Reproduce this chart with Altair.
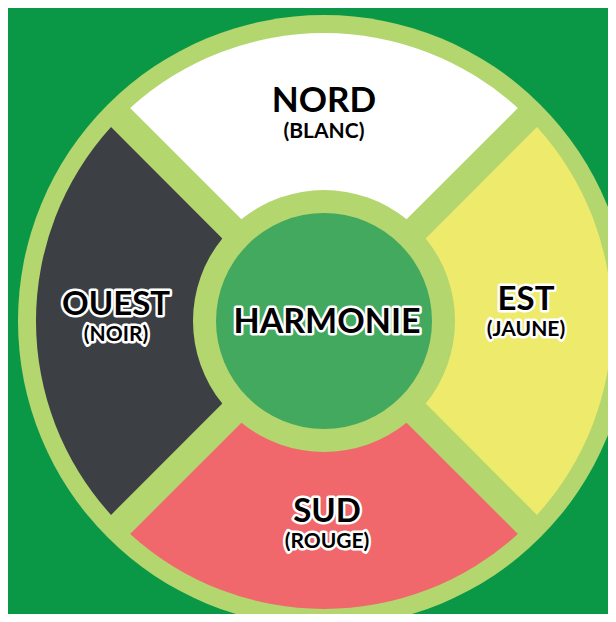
import math
import altair as alt
import pandas as pd

# ---- data -------------------------------------------------------------
directions = ["NORD", "EST", "SUD", "OUEST"]
colour_names = ["(BLANC)", "(JAUNE)", "(ROUGE)", "(NOIR)"]
segment_colours = ["#ffffff", "#eeea6b", "#f0686c", "#3c3f43"]
shares = [1, 1, 1, 1]
centre_label = ["HARMONIE"]

# ---- style / layout ----------------------------------------------------
BG = "#0a9847"
RING = "#b3d66f"
CORE = "#43a95f"
W, H = 600, 606
CX, CY = 316, 313
R_OUTER_RING = 306
R_SEG_OUT = 288
R_SEG_IN = 131
R_CORE = 108
GAP = 27
FONT = "Lato"
SUB_SIZE = 21
pad_radius = math.sqrt(R_SEG_IN ** 2 + R_SEG_OUT ** 2)
PAD = 2 * math.asin(GAP / 2 / pad_radius)
TOTAL = sum(shares)
THETA_RANGE = [7 * math.pi / 4, 15 * math.pi / 4]

# label placement per direction: radius, dx, title dy, subtitle dy, title size
LABEL_LAYOUT = {
    "NORD": (206, 0, -14, 17, 35),
    "EST": (203, -1, -21, 9, 33),
    "SUD": (206, 3, -15, 15, 33),
    "OUEST": (208, 0, -16, 14, 33),
}

df = pd.DataFrame({
    "direction": directions,
    "sub": colour_names,
    "colour": segment_colours,
    "share": shares,
    "order": list(range(len(directions))),
})

theta_scale = alt.Scale(domain=[0, TOTAL], range=THETA_RANGE)
pos = dict(x=alt.value(CX), y=alt.value(CY))

ring = alt.Chart(pd.DataFrame({"k": [0]})).mark_arc(
    innerRadius=0, outerRadius=R_OUTER_RING, color=RING
).encode(theta=alt.value(0), theta2=alt.value(2 * math.pi), **pos)

segments = alt.Chart(df).mark_arc(
    innerRadius=R_SEG_IN, outerRadius=R_SEG_OUT, padAngle=PAD
).encode(
    theta=alt.Theta("share:Q", stack=True, scale=theta_scale),
    order=alt.Order("order:Q"),
    color=alt.Color("colour:N", scale=None),
    **pos,
)

core = alt.Chart(pd.DataFrame({"k": [0]})).mark_arc(
    innerRadius=0, outerRadius=R_CORE, color=CORE
).encode(theta=alt.value(0), theta2=alt.value(2 * math.pi), **pos)

layers = [ring, segments, core]

base = alt.Chart(df).transform_window(
    cum="sum(share)", sort=[alt.SortField("order")], frame=[None, 0]
).transform_calculate(mid="datum.cum - datum.share / 2")


def pos_or_theta(props):
    if "radius" in props:
        return dict(theta=alt.Theta("mid:Q", scale=theta_scale), **pos)
    return pos


def outlined(chart, field, size, outline, **props):
    out = []
    if outline:
        out.append(chart.mark_text(
            font=FONT, fontWeight="bold", fontSize=size, align="center",
            baseline="middle", color="white", stroke="white", strokeWidth=5,
            strokeJoin="round", **props
        ).encode(text=f"{field}:N", **pos_or_theta(props)))
    out.append(chart.mark_text(
        font=FONT, fontWeight="bold", fontSize=size, align="center",
        baseline="middle", color="black", **props
    ).encode(text=f"{field}:N", **pos_or_theta(props)))
    return out


for d in directions:
    r, dx, dy_t, dy_s, size_t = LABEL_LAYOUT[d]
    sub = base.transform_filter(alt.datum.direction == d)
    outline = d != "NORD"
    layers += outlined(sub, "direction", size_t, outline, radius=r, dx=dx, dy=dy_t)
    layers += outlined(sub, "sub", SUB_SIZE, outline, radius=r, dx=dx, dy=dy_s)

centre = alt.Chart(pd.DataFrame({"label": centre_label}))
layers += outlined(centre, "label", 34, True, dx=3, dy=2)

chart = alt.layer(*layers).properties(
    width=W, height=H, background=BG, padding=0,
    autosize=alt.AutoSizeParams(type="none"),
).configure_view(stroke=None)

chart.save("out.html", embed_options={"renderer": "svg", "actions": False})
